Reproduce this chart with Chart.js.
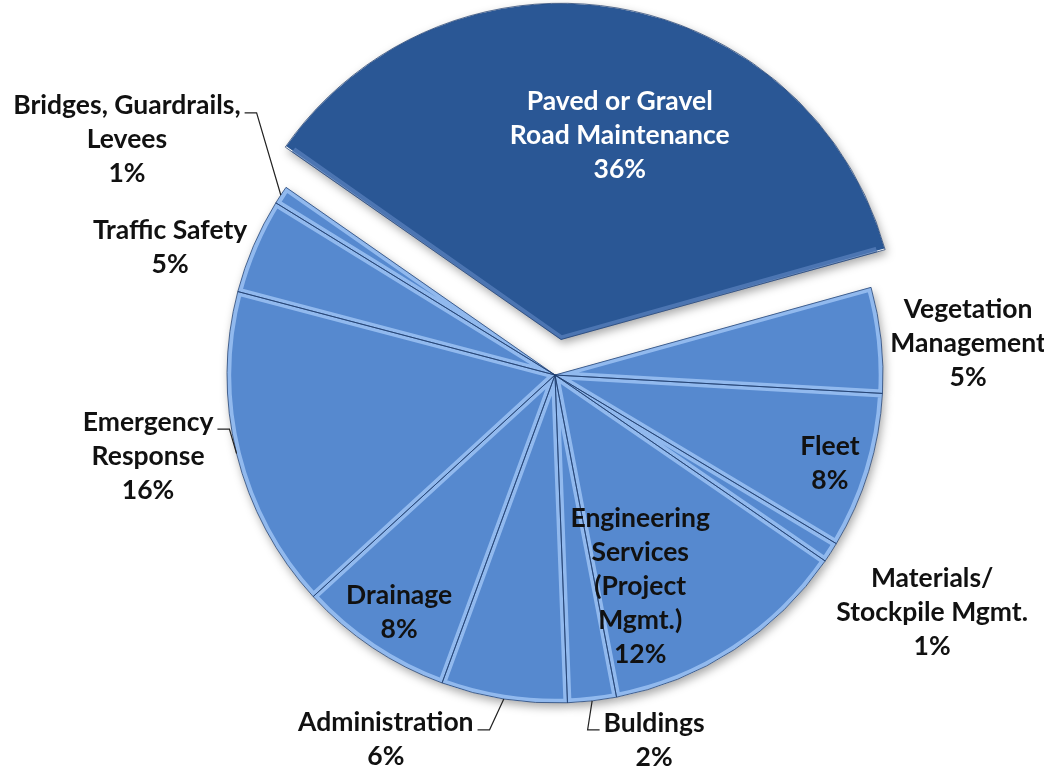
<!DOCTYPE html>
<html>
<head>
<meta charset="utf-8">
<script src="https://cdn.jsdelivr.net/npm/chart.js@4.4.1/dist/chart.umd.min.js"></script>
<style>
  html, body { margin: 0; padding: 0; background: #fff; }
  #wrap { width: 1044px; height: 773px; position: relative; }
</style>
</head>
<body>
<div id="wrap"><canvas id="budgetPie"></canvas></div>
<script>
// slice names as they are written on the chart, one entry per text line
var sliceLabels = [
    ["Paved or Gravel", "Road Maintenance"],
    ["Vegetation", "Management"],
    ["Fleet"],
    ["Materials/", "Stockpile Mgmt."],
    ["Engineering", "Services", "(Project", "Mgmt.)"],
    ["Buldings"],
    ["Administration"],
    ["Drainage"],
    ["Emergency", "Response"],
    ["Traffic Safety"],
    ["Bridges, Guardrails,", "Levees"]
];
// share of budget (%); labels show it rounded
var sliceShares = [36.0, 5.2, 7.7, 1.0, 12.4, 2.4, 6.2, 7.6, 15.9, 4.7, 0.9];

// look of the slices
var sliceColors = ["#2a5795", "#5689cf", "#5689cf", "#5689cf", "#5689cf", "#5689cf",
                   "#5689cf", "#5689cf", "#5689cf", "#5689cf", "#5689cf"];
var bevelColors = ["rgba(85,125,185,0.8)", "rgba(160,198,245,0.8)", "rgba(160,198,245,0.8)",
                   "rgba(160,198,245,0.8)", "rgba(160,198,245,0.8)", "rgba(160,198,245,0.8)",
                   "rgba(160,198,245,0.8)", "rgba(160,198,245,0.8)", "rgba(160,198,245,0.8)",
                   "rgba(160,198,245,0.8)", "rgba(160,198,245,0.8)"];
var sliceOffsets = [144, 0, 0, 0, 0, 0, 0, 0, 0, 0, 0]; // chart.js draws offset/4

// where each label sits: fraction of radius, and turn (deg) from the slice middle
var labelRadius = [0.758, 1.263, 0.880, 1.358, 0.695, 1.153, 1.226, 0.865, 1.265, 1.236, 1.489];
var labelTurn   = [5.4, 1.8, 0.7, -0.6, 11.2, -8.7, 15.9, -0.5, 2.6, -4.9, -4.5];
var leaderSide  = [0, 0, 0, 0, 0, -1, 1, 0, 1, 0, 1]; // 1: leader leaves right of text, -1: left
var lineH = 34;

function slicePath(ctx, arc) {
    var p = arc.getProps(['x', 'y', 'startAngle', 'endAngle', 'outerRadius'], true);
    var off = (arc.options.offset || 0) / 4;
    var half = (p.startAngle + p.endAngle) / 2;
    var fix = 1 - Math.sin(Math.min(Math.PI, p.endAngle - p.startAngle));
    var cx = p.x + Math.cos(half) * off, cy = p.y + Math.sin(half) * off;
    ctx.beginPath();
    ctx.moveTo(cx, cy);
    ctx.arc(cx, cy, p.outerRadius + off * fix, p.startAngle, p.endAngle);
    ctx.closePath();
}

var piePlugin = {
    id: 'pieExtras',
    beforeDatasetsDraw: function(chart) {
        // soft shadow under the slices
        var ctx = chart.ctx;
        ctx.save();
        ctx.shadowColor = 'rgba(0,0,0,0.35)';
        ctx.shadowBlur = 10;
        ctx.shadowOffsetX = 2;
        ctx.shadowOffsetY = 4;
        ctx.fillStyle = '#fff';
        chart.getDatasetMeta(0).data.forEach(function(arc) {
            slicePath(ctx, arc);
            ctx.fill();
        });
        ctx.restore();
    },
    afterDatasetsDraw: function(chart) {
        var ctx = chart.ctx;
        var meta = chart.getDatasetMeta(0);
        var total = sliceShares.reduce(function(a, b) { return a + b; }, 0);
        ctx.save();
        // thin dark seams
        ctx.strokeStyle = 'rgba(30,60,110,0.75)';
        ctx.lineWidth = 1;
        meta.data.forEach(function(arc) {
            slicePath(ctx, arc);
            ctx.stroke();
        });

        ctx.font = 'bold 26.5px Lato';
        ctx.textAlign = 'center';
        ctx.textBaseline = 'middle';
        meta.data.forEach(function(arc, i) {
            var p = arc.getProps(['x', 'y', 'startAngle', 'endAngle', 'outerRadius'], true);
            var mid = (p.startAngle + p.endAngle) / 2;
            var a = mid + labelTurn[i] * Math.PI / 180;
            var r = p.outerRadius * labelRadius[i];
            var cx = p.x + Math.cos(a) * r, cy = p.y + Math.sin(a) * r;
            var lines = sliceLabels[i].concat([Math.round(sliceShares[i] / total * 100) + '%']);
            var top = cy - (lines.length - 1) * lineH / 2;
            ctx.fillStyle = i === 0 ? '#ffffff' : '#111111';
            lines.forEach(function(t, k) { ctx.fillText(t, cx, top + k * lineH); });
            if (leaderSide[i]) {
                var w = ctx.measureText(lines[0]).width;
                var by = top + 7;
                var x0 = cx + leaderSide[i] * (w / 2 + 4);
                var x1 = x0 + leaderSide[i] * 12;
                ctx.beginPath();
                ctx.moveTo(x0, by);
                ctx.lineTo(x1, by);
                ctx.lineTo(p.x + Math.cos(mid) * p.outerRadius, p.y + Math.sin(mid) * p.outerRadius);
                ctx.strokeStyle = '#222';
                ctx.lineWidth = 1.2;
                ctx.stroke();
            }
        });
        ctx.restore();
    }
};

var pieCtx = document.getElementById("budgetPie");
var pieChart = new Chart(pieCtx, {
    type: 'pie',
    data: {
        labels: sliceLabels.map(function(l) { return l.join(' '); }),
        datasets: [{
            data: sliceShares,
            backgroundColor: sliceColors,
            borderColor: bevelColors,
            borderWidth: 4,
            borderAlign: 'inner',
            offset: sliceOffsets
        }]
    },
    options: {
        responsive: true,
        maintainAspectRatio: false,
        animation: false,
        events: [],
        rotation: -55.1,
        radius: 328,
        layout: { padding: { left: 66, right: 0, top: 0, bottom: 23 } },
        plugins: {
            legend: { display: false },
            tooltip: { enabled: false }
        }
    },
    plugins: [piePlugin]
});
</script>
</body>
</html>
